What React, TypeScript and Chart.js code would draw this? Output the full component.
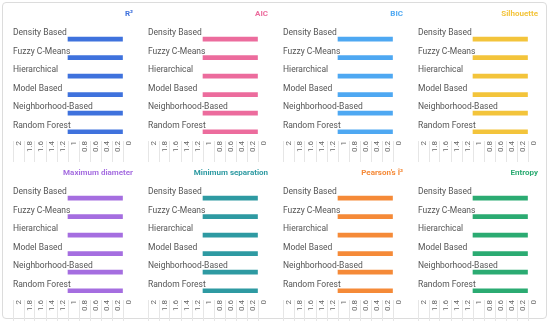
import { useEffect, useRef } from 'react';
import { Chart, registerables } from 'chart.js';

Chart.register(...registerables);

const categories = ['Density Based', 'Fuzzy C-Means', 'Hierarchical', 'Model Based', 'Neighborhood-Based', 'Random Forest'];

const xTickValues = [0, 0.2, 0.4, 0.6, 0.8, 1, 1.2, 1.4, 1.6, 1.8, 2];
const xTickLabels = ['0', '0.2', '0.4', '0.6', '0.8', '1', '1.2', '1.4', '1.6', '1.8', '2'];

const metricTitles = ['R²', 'AIC', 'BIC', 'Silhouette', 'Maximum diameter', 'Minimum separation', "Pearson's Î³", 'Entropy'];
const metricColors = ['#3f72dd', '#ec6c9d', '#4ea8f2', '#f3c43b', '#a56ee0', '#2e9aa2', '#f58a38', '#2bab72'];

const r2Values = [1, 1, 1, 1, 1, 1];
const aicValues = [1, 1, 1, 1, 1, 1];
const bicValues = [1, 1, 1, 1, 1, 1];
const silhouetteValues = [1, 1, 1, 1, 1, 1];
const maxDiameterValues = [1, 1, 1, 1, 1, 1];
const minSeparationValues = [1, 1, 1, 1, 1, 1];
const pearsonValues = [1, 1, 1, 1, 1, 1];
const entropyValues = [1, 1, 1, 1, 1, 1];

const metricValues = [r2Values, aicValues, bicValues, silhouetteValues, maxDiameterValues, minSeparationValues, pearsonValues, entropyValues];

const PANEL_W = 135;
const PANEL_H = 159;

function Panel({ title, color, values, left, top }: { title: string; color: string; values: number[]; left: number; top: number }) {
  const ref = useRef<HTMLCanvasElement>(null);
  useEffect(() => {
    const chart = new Chart(ref.current as HTMLCanvasElement, {
      type: 'bar',
      data: {
        labels: categories,
        datasets: [{ data: values, backgroundColor: color, barThickness: 4 }],
      },
      options: {
        indexAxis: 'y',
        responsive: false,
        animation: false,
        layout: { padding: { left: 8, right: 7, top: 0, bottom: 0 } },
        plugins: {
          legend: { display: false },
          tooltip: { enabled: false },
          title: {
            display: true,
            text: title,
            align: 'end',
            color,
            font: { family: 'Roboto', size: 8, weight: 'bold' },
            padding: { top: 6.2, bottom: 11.0 },
          },
        },
        scales: {
          x: {
            type: 'linear',
            reverse: true,
            min: 0,
            max: 2,
            border: { display: false },
            grid: { drawOnChartArea: false, drawTicks: true, tickLength: 22, color: '#e6e6e6' },
            ticks: {
              autoSkip: false,
              minRotation: 90,
              maxRotation: 90,
              labelOffset: 6,
              padding: -22,
              color: '#666',
              font: { family: 'Roboto', size: 8 },
              callback: (_v: any, i: number) => xTickLabels[i],
            },
            afterBuildTicks: (s: any) => {
              s.ticks = xTickValues.map((v) => ({ value: v }));
            },
            afterFit: (s: any) => {
              s.height = 21;
              s.paddingLeft = 0;
              s.paddingRight = 17;
            },
          },
          y: {
            grid: { display: false },
            border: { display: false },
            ticks: {
              mirror: true,
              padding: 0,
              labelOffset: -6,
              color: '#555',
              font: { family: 'Roboto', size: 8.5 },
            },
            afterFit: (s: any) => {
              s.width = 0;
            },
          },
        },
      },
    } as any);
    return () => chart.destroy();
  }, []);
  return (
    <canvas
      ref={ref}
      width={PANEL_W}
      height={PANEL_H}
      style={{ position: 'absolute', left, top, width: PANEL_W, height: PANEL_H }}
    />
  );
}

export default function App() {
  return (
    <div style={{ position: 'absolute', left: 0, top: 0, width: 550, height: 325, background: '#fff', overflow: 'hidden' }}>
      <div
        style={{
          position: 'absolute',
          left: 2,
          top: 2,
          width: 545,
          height: 317,
          boxSizing: 'border-box',
          border: '1px solid #dcdcdc',
          borderRadius: 4,
        }}
      />
      {metricTitles.map((t, i) => (
        <Panel
          key={t}
          title={t}
          color={metricColors[i]}
          values={metricValues[i]}
          left={5 + (i % 4) * PANEL_W}
          top={3 + Math.floor(i / 4) * PANEL_H}
        />
      ))}
    </div>
  );
}
